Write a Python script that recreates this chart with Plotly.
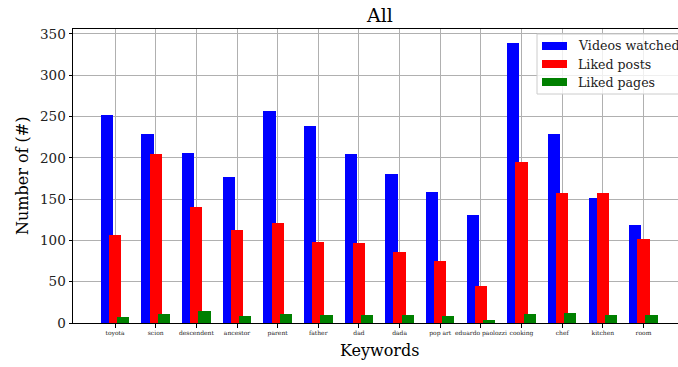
import plotly.graph_objects as go

# Keyword categories and per-keyword counts
keywords = ["toyota", "scion", "descendent", "ancestor", "parent", "father", "dad",
            "dada", "pop art", "eduardo paolozzi", "cooking", "chef", "kitchen", "room"]
videos_watched = [252, 229, 206, 177, 257, 238, 205, 181, 159, 131, 339, 229, 151, 119]
liked_posts = [107, 205, 140, 112, 121, 98, 97, 86, 75, 45, 195, 158, 158, 102]
liked_pages = [7, 11, 15, 8, 11, 10, 10, 10, 8, 4, 11, 12, 10, 10]

series_names = ["Videos watched", "Liked posts", "Liked pages"]
series_values = [videos_watched, liked_posts, liked_pages]
series_colors = ["#0000ff", "#ff0000", "#008000"]
offsets = [-0.2, 0.0, 0.2]
bar_width = 0.3

W, H = 678, 367
ML, MR, MT, MB = 73, 0, 29, 44
PW, PH = W - ML - MR, H - MT - MB
FONT = "DejaVu Serif"

fig = go.Figure()
idx = list(range(len(keywords)))
for name, vals, color, off in zip(series_names, series_values, series_colors, offsets):
    fig.add_trace(go.Bar(
        x=[i + off for i in idx], y=vals, width=bar_width, name=name,
        marker=dict(color=color, line=dict(width=0)), showlegend=False,
    ))

x_lo, x_hi = -1.035, 13.85
y_max = max(videos_watched) * 1.05


def px_x(p):
    return (p - ML) / PW


def px_y(p):
    return 1 - (p - MT) / PH


# Legend box drawn as shapes + text
shapes = [dict(type="rect", xref="paper", yref="paper",
               x0=px_x(537), x1=px_x(700), y0=px_y(94), y1=px_y(34),
               line=dict(color="#cccccc", width=1), fillcolor="rgba(255,255,255,0.8)",
               layer="above")]
annotations = []
for k, (name, color) in enumerate(zip(series_names, series_colors)):
    cy = 46 + 18 * k
    shapes.append(dict(type="rect", xref="paper", yref="paper",
                       x0=px_x(542), x1=px_x(567), y0=px_y(cy + 4), y1=px_y(cy - 4),
                       line=dict(width=0), fillcolor=color, layer="above"))
    annotations.append(dict(text=name, xref="paper", yref="paper", x=px_x(576), y=px_y(cy),
                            xanchor="left", yanchor="middle", showarrow=False,
                            font=dict(family=FONT, size=12.6, color="#222222")))

# Title and axis labels
annotations.append(dict(text="All", xref="x", yref="paper", x=6.5, y=1 + 14 / PH,
                        xanchor="center", yanchor="middle", showarrow=False,
                        font=dict(family=FONT, size=19, color="black")))
annotations.append(dict(text="Keywords", xref="x", yref="paper", x=6.5, y=-27 / PH,
                        xanchor="center", yanchor="middle", showarrow=False,
                        font=dict(family=FONT, size=16, color="black")))
annotations.append(dict(text="Number of (#)", xref="paper", yref="paper", x=px_x(22), y=0.5,
                        xanchor="center", yanchor="middle", textangle=-90, showarrow=False,
                        font=dict(family=FONT, size=16, color="black")))

fig.update_layout(
    width=W, height=H,
    margin=dict(l=ML, r=MR, t=MT, b=MB, pad=0),
    plot_bgcolor="white", paper_bgcolor="white",
    barmode="overlay", bargap=0,
    font=dict(family=FONT, color="black"),
    shapes=shapes, annotations=annotations,
    xaxis=dict(
        range=[x_lo, x_hi], tickmode="array", tickvals=idx, ticktext=keywords,
        tickfont=dict(family=FONT, size=6, color="#222222"),
        ticks="outside", ticklen=3.5, tickwidth=1, tickcolor="black",
        showline=True, linecolor="black", linewidth=1, mirror=True,
        showgrid=True, gridcolor="#b0b0b0", gridwidth=0.8,
        zeroline=False, layer="above traces",
    ),
    yaxis=dict(
        range=[0, y_max], tickmode="array", tickvals=[0, 50, 100, 150, 200, 250, 300, 350],
        tickfont=dict(family=FONT, size=13.5, color="#222222"),
        ticks="outside", ticklen=3.5, tickwidth=1, tickcolor="black",
        showline=True, linecolor="black", linewidth=1, mirror=False,
        showgrid=True, gridcolor="#b0b0b0", gridwidth=0.8,
        zeroline=False, layer="above traces",
    ),
)

fig.write_html("out.html")
